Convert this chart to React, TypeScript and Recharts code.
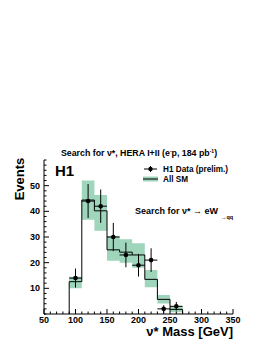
import React from "react"
import {
    ComposedChart,
    Line,
    Area,
    Scatter,
    ErrorBar,
    XAxis,
    YAxis,
    Customized
} from "recharts"

// bin edges of the SM histogram (GeV) and predicted events per bin
const binEdges = [90, 110, 130, 150, 170, 190, 210, 230, 250, 270]
const smValues = [12.6, 44.4, 40.2, 25, 24.1, 23, 13.5, 5.7, 1.8]
const smLow = [10, 36.7, 32.4, 20.7, 20, 18, 10.4, 4.1, 0.7]
const smHigh = [14.5, 52, 46.4, 30.4, 29.1, 27.6, 17.1, 7.4, 3.1]

// H1 data points
const dataMass = [100, 120, 140, 160, 180, 200, 220, 240, 260]
const dataEvents = [14, 44, 42, 30, 23, 19, 21, 2, 3]
const dataErr = [3.7, 6.6, 6.5, 5.5, 4.8, 4.4, 4.6, 1.4, 1.7]
const binHalfWidth = 10

const xMajor = [50, 100, 150, 200, 250, 300, 350]
const xTicks = [50, 60, 70, 80, 90, 100, 110, 120, 130, 140, 150, 160, 170, 180, 190, 200, 210, 220, 230, 240, 250, 260, 270, 280, 290, 300, 310, 320, 330, 340, 350]
const yMajor = [10, 20, 30, 40, 50]
const yTicks = [0, 2, 4, 6, 8, 10, 12, 14, 16, 18, 20, 22, 24, 26, 28, 30, 32, 34, 36, 38, 40, 42, 44, 46, 48, 50, 52, 54, 56, 58, 60]

const font = "'Liberation Sans', Arial, sans-serif"
const bandColor = "#9fd5bb"

// step line: start from zero at the first edge, close at zero at the last edge
const smLine = [
    { x: binEdges[0], y: 0 },
    ...smValues.map((v, i) => ({ x: binEdges[i], y: v })),
    { x: binEdges[binEdges.length - 1], y: 0 }
]

const smBand = [
    ...smLow.map((lo, i) => ({ x: binEdges[i], range: [lo, smHigh[i]] })),
    { x: binEdges[binEdges.length - 1], range: [smLow[smLow.length - 1], smHigh[smHigh.length - 1]] }
]

const points = dataMass.map((m, i) => ({
    x: m,
    y: dataEvents[i],
    ey: dataErr[i],
    ex: binHalfWidth
}))

function XTick(props: any) {
    const { x, y, payload } = props
    const major = xMajor.includes(payload.value)
    return (
        <g>
            <line x1={x} x2={x} y1={y} y2={y - (major ? 5 : 2.5)} stroke="#000" strokeWidth={1} />
            {major && (
                <text x={x} y={y + 9} textAnchor="middle" fontFamily={font} fontWeight="bold" fontSize={9} fill="#000">
                    {payload.value}
                </text>
            )}
        </g>
    )
}

function YTick(props: any) {
    const { x, y, payload } = props
    const major = yMajor.includes(payload.value)
    return (
        <g>
            <line x1={x} x2={x + (major ? 5 : 2.5)} y1={y} y2={y} stroke="#000" strokeWidth={1} />
            {major && (
                <text x={x - 4} y={y + 3} textAnchor="end" fontFamily={font} fontWeight="bold" fontSize={9} fill="#000">
                    {payload.value}
                </text>
            )}
        </g>
    )
}

function Decorations() {
    return (
        <g fontFamily={font} fill="#000">
            <text x={139} y={156} textAnchor="middle" fontSize={8.8} fontWeight="bold">
                Search for ν*, HERA I+II (e<tspan dy={-3} fontSize={5}>-</tspan><tspan dy={3}>p, 184 pb</tspan><tspan dy={-3} fontSize={5}>-1</tspan><tspan dy={3}>)</tspan>
            </text>
            <text x={55} y={176} fontSize={15} fontWeight="bold">H1</text>

            {/* legend */}
            <line x1={144} x2={157} y1={169} y2={169} stroke="#000" strokeWidth={1} />
            <line x1={150.5} x2={150.5} y1={166} y2={172} stroke="#000" strokeWidth={1} />
            <circle cx={150.5} cy={169} r={2.2} fill="#000" />
            <text x={163} y={172} fontSize={8.2} fontWeight="bold">H1 Data (prelim.)</text>
            <rect x={143} y={176.5} width={15} height={5} fill={bandColor} />
            <line x1={143} x2={158} y1={179} y2={179} stroke="#000" strokeWidth={1} />
            <text x={163} y={182} fontSize={8.2} fontWeight="bold">All SM</text>

            <text x={135} y={214} fontSize={9} fontWeight="bold">Search for ν* → eW</text>
            <text x={221} y={219} fontSize={5.5} fontWeight="bold">→qq</text>

            <text x={233} y={336} textAnchor="end" fontSize={13} fontWeight="bold">ν* Mass [GeV]</text>
            <text transform="translate(24,179) rotate(-90)" textAnchor="middle" fontSize={13} fontWeight="bold">Events</text>
        </g>
    )
}

export default function App() {
    return (
        <div style={{ position: "absolute", left: 0, top: 0, width: 266, height: 344, background: "#fff" }}>
            <ComposedChart
                width={266}
                height={344}
                margin={{ top: 160, right: 33, bottom: 10, left: 0 }}
            >
                <XAxis
                    type="number"
                    dataKey="x"
                    domain={[50, 350]}
                    ticks={xTicks}
                    interval={0}
                    height={20}
                    tickSize={0}
                    tickMargin={0}
                    tickLine={false}
                    tick={<XTick />}
                    axisLine={{ stroke: "#000", strokeWidth: 1 }}
                    allowDataOverflow
                />
                <YAxis
                    type="number"
                    domain={[0, 60]}
                    ticks={yTicks}
                    interval={0}
                    width={44}
                    tickSize={0}
                    tickMargin={0}
                    tickLine={false}
                    tick={<YTick />}
                    axisLine={{ stroke: "#000", strokeWidth: 1 }}
                    allowDataOverflow
                />
                <XAxis xAxisId="top" orientation="top" type="number" domain={[50, 350]} height={0} tick={false} tickLine={false} axisLine={{ stroke: "#000" }} />
                <YAxis yAxisId="right" orientation="right" type="number" domain={[0, 60]} width={0} tick={false} tickLine={false} axisLine={{ stroke: "#000" }} />
                <Area
                    data={smBand}
                    dataKey="range"
                    type="stepAfter"
                    fill={bandColor}
                    fillOpacity={1}
                    stroke="none"
                    isAnimationActive={false}
                />
                <Line
                    data={smLine}
                    dataKey="y"
                    type="stepAfter"
                    stroke="#000"
                    strokeWidth={1}
                    dot={false}
                    isAnimationActive={false}
                />
                <Scatter
                    data={points}
                    dataKey="y"
                    fill="#000"
                    shape={(p: any) => <circle cx={p.cx} cy={p.cy} r={2.3} fill="#000" />}
                    isAnimationActive={false}
                >
                    <ErrorBar dataKey="ey" direction="y" width={0} stroke="#000" strokeWidth={1} isAnimationActive={false} />
                    <ErrorBar dataKey="ex" direction="x" width={0} stroke="#000" strokeWidth={1} isAnimationActive={false} />
                </Scatter>
                <Customized component={Decorations} />
            </ComposedChart>
        </div>
    )
}
